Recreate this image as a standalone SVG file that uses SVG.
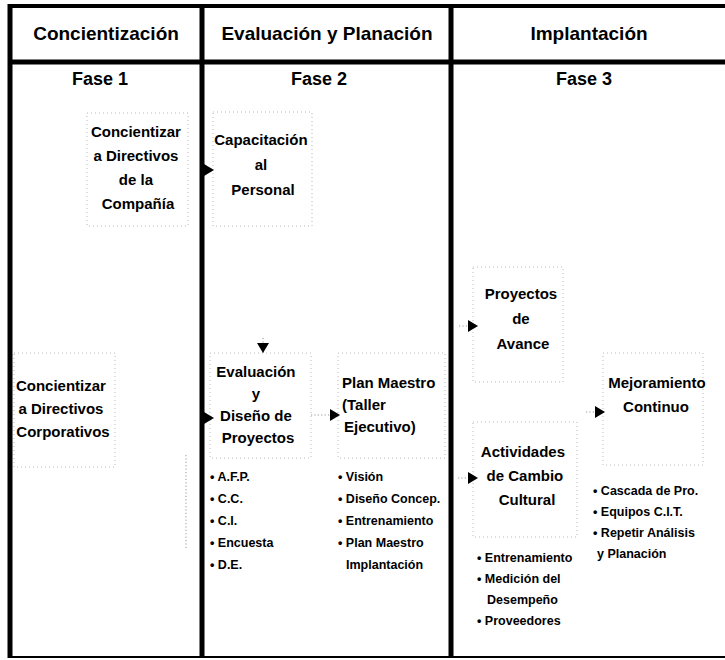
<svg xmlns="http://www.w3.org/2000/svg" width="725" height="660" viewBox="0 0 725 660">
  <defs>
    <style>
      text { font-family: "Liberation Sans", Arial, sans-serif; font-weight: bold; fill: #000; }
      .head { font-size: 19px; text-anchor: middle; }
      .fase { font-size: 18px; text-anchor: middle; }
      .box-text { font-size: 15px; text-anchor: middle; }
      .box-left { font-size: 15px; text-anchor: start; }
      .item { font-size: 12.5px; }
      .frame { stroke: #000; fill: none; }
      .box { fill: none; stroke: #a6a6a6; stroke-width: 0.8; stroke-dasharray: 1 3; }
      .link { fill: none; stroke: #8c8c8c; stroke-width: 0.9; stroke-dasharray: 1.2 2.2; }
    </style>
    <marker id="tri" viewBox="0 0 10 12" refX="10" refY="6" markerWidth="10" markerHeight="12" markerUnits="userSpaceOnUse" orient="auto">
      <path d="M0,0 L10,6 L0,12 z" fill="#000"/>
    </marker>
  </defs>

  <rect width="725" height="660" fill="#fff"/>

  <!-- table frame -->
  <g id="frame" class="frame">
    <line x1="8" y1="6" x2="725" y2="6" stroke-width="4"/>
    <line x1="8" y1="62" x2="725" y2="62" stroke-width="5"/>
    <line x1="10" y1="4" x2="10" y2="658" stroke-width="5"/>
    <line x1="202" y1="4" x2="202" y2="658" stroke-width="5"/>
    <line x1="451" y1="4" x2="451" y2="658" stroke-width="5"/>
    <line x1="8" y1="657" x2="725" y2="657" stroke-width="2"/>
  </g>

  <!-- column headings -->
  <g id="headings">
    <text class="head" x="106" y="40">Concientización</text>
    <text class="head" x="327" y="40">Evaluación y Planación</text>
    <text class="head" x="589" y="40">Implantación</text>
    <text class="fase" x="100" y="85">Fase 1</text>
    <text class="fase" x="319" y="85">Fase 2</text>
    <text class="fase" x="584" y="85">Fase 3</text>
  </g>

  <!-- phase 1 -->
  <g id="concientizar-compania">
    <rect class="box" x="87" y="113" width="101" height="113"/>
    <text class="box-text">
      <tspan x="138" y="137">Concientizar</tspan>
      <tspan x="138" y="161">a Directivos</tspan>
      <tspan x="138" y="185">de la</tspan>
      <tspan x="138" y="209">Compañía</tspan>
    </text>
  </g>

  <g id="concientizar-corporativos">
    <rect class="box" x="14" y="353" width="101" height="114"/>
    <text class="box-text">
      <tspan x="63" y="391">Concientizar</tspan>
      <tspan x="63" y="414">a Directivos</tspan>
      <tspan x="63" y="437">Corporativos</tspan>
    </text>
  </g>

  <!-- phase 2 -->
  <g id="capacitacion">
    <rect class="box" x="213" y="112" width="99" height="114"/>
    <text class="box-text">
      <tspan x="263" y="145">Capacitación</tspan>
      <tspan x="263" y="170">al</tspan>
      <tspan x="263" y="195">Personal</tspan>
    </text>
  </g>

  <g id="evaluacion">
    <rect class="box" x="210" y="353" width="101" height="105"/>
    <text class="box-text">
      <tspan x="258" y="377">Evaluación</tspan>
      <tspan x="258" y="399">y</tspan>
      <tspan x="258" y="421">Diseño de</tspan>
      <tspan x="258" y="443">Proyectos</tspan>
    </text>
    <text class="item">
      <tspan x="210" y="481">• A.F.P.</tspan>
      <tspan x="210" y="503">• C.C.</tspan>
      <tspan x="210" y="525">• C.I.</tspan>
      <tspan x="210" y="547">• Encuesta</tspan>
      <tspan x="210" y="569">• D.E.</tspan>
    </text>
  </g>

  <g id="plan-maestro">
    <rect class="box" x="338" y="353" width="107" height="105"/>
    <text class="box-left">
      <tspan x="342" y="388">Plan Maestro</tspan>
      <tspan x="342" y="410">(Taller</tspan>
      <tspan x="344" y="432">Ejecutivo)</tspan>
    </text>
    <text class="item">
      <tspan x="338" y="481">• Visión</tspan>
      <tspan x="338" y="503">• Diseño Concep.</tspan>
      <tspan x="338" y="525">• Entrenamiento</tspan>
      <tspan x="338" y="547">• Plan Maestro</tspan>
      <tspan x="346" y="569">Implantación</tspan>
    </text>
  </g>

  <!-- phase 3 -->
  <g id="proyectos-avance">
    <rect class="box" x="473" y="267" width="90" height="115"/>
    <text class="box-text">
      <tspan x="523" y="299">Proyectos</tspan>
      <tspan x="523" y="324">de</tspan>
      <tspan x="523" y="349">Avance</tspan>
    </text>
  </g>

  <g id="cambio-cultural">
    <rect class="box" x="473" y="422" width="104" height="115"/>
    <text class="box-text">
      <tspan x="525" y="457">Actividades</tspan>
      <tspan x="527" y="481">de Cambio</tspan>
      <tspan x="527" y="505">Cultural</tspan>
    </text>
    <text class="item">
      <tspan x="477" y="562">• Entrenamiento</tspan>
      <tspan x="477" y="583">• Medición del</tspan>
      <tspan x="487" y="604">Desempeño</tspan>
      <tspan x="477" y="625">• Proveedores</tspan>
    </text>
  </g>

  <g id="mejoramiento">
    <rect class="box" x="603" y="353" width="100" height="112"/>
    <text class="box-text">
      <tspan x="659" y="388">Mejoramiento</tspan>
      <tspan x="656" y="412">Continuo</tspan>
    </text>
    <text class="item">
      <tspan x="593" y="495">• Cascada de Pro.</tspan>
      <tspan x="593" y="516">• Equipos C.I.T.</tspan>
      <tspan x="593" y="537">• Repetir Análisis</tspan>
      <tspan x="597" y="558">y Planación</tspan>
    </text>
  </g>

  <!-- connectors -->
  <g id="connectors">
    <line class="link" x1="204" y1="170" x2="214" y2="170" marker-end="url(#tri)"/>
    <line class="link" x1="263" y1="338" x2="263" y2="353" marker-end="url(#tri)"/>
    <line class="link" x1="204" y1="418" x2="214" y2="418" marker-end="url(#tri)"/>
    <line class="link" x1="311" y1="415" x2="340" y2="415" marker-end="url(#tri)"/>
    <line class="link" x1="459" y1="326" x2="478" y2="326" marker-end="url(#tri)"/>
    <line class="link" x1="458" y1="478" x2="478" y2="478" marker-end="url(#tri)"/>
    <line class="link" x1="586" y1="412" x2="605" y2="412" marker-end="url(#tri)"/>
    <line class="link" x1="186" y1="455" x2="186" y2="550"/>
  </g>
</svg>
